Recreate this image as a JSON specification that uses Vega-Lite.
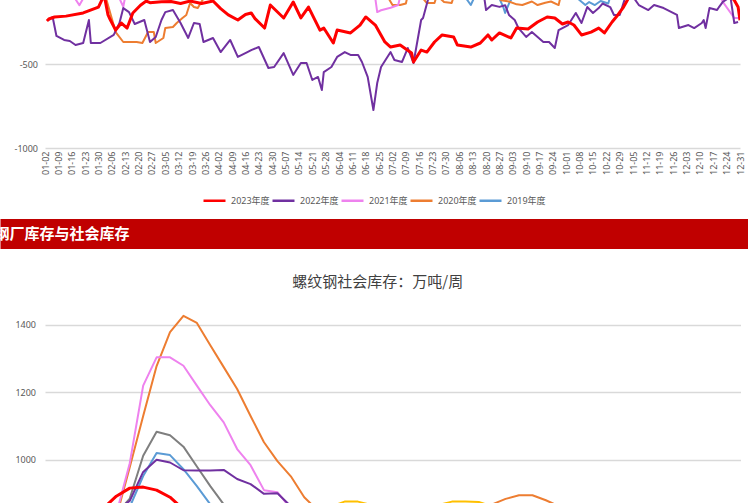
{
  "$schema": "https://vega.github.io/schema/vega-lite/v6.json",
  "padding": {"left": -6, "top": 0, "right": 0, "bottom": 0},
  "background": "white",
  "spacing": 13,
  "resolve": {"scale": {"x": "independent", "y": "independent", "color": "independent", "strokeWidth": "independent"}, "legend": {"color": "independent"}},
  "config": {
    "view": {"stroke": null},
    "axis": {"labelFont": "Noto Sans, Noto Sans CJK SC", "labelColor": "#595959", "labelFontSize": 9},
    "legend": {"labelFont": "Noto Sans, Noto Sans CJK SC", "labelColor": "#595959", "labelFontSize": 9}
  },
  "datasets": {
    "top": [
      {"series": "2019年度", "day": 0, "value": 20}, {"series": "2019年度", "day": 100, "value": 10}, {"series": "2019年度", "day": 200, "value": -20}, {"series": "2019年度", "day": 207, "value": -40}, {"series": "2019年度", "day": 220, "value": -100}, {"series": "2019年度", "day": 223, "value": -149}, {"series": "2019年度", "day": 225, "value": -100}, {"series": "2019年度", "day": 233, "value": -60}, {"series": "2019年度", "day": 238, "value": -110}, {"series": "2019年度", "day": 240, "value": -161}, {"series": "2019年度", "day": 241, "value": -196}, {"series": "2019年度", "day": 243, "value": -140}, {"series": "2019年度", "day": 245, "value": -100}, {"series": "2019年度", "day": 260, "value": -50}, {"series": "2019年度", "day": 278, "value": -100}, {"series": "2019年度", "day": 281, "value": -130}, {"series": "2019年度", "day": 283, "value": -149}, {"series": "2019年度", "day": 285, "value": -131}, {"series": "2019年度", "day": 288, "value": -149}, {"series": "2019年度", "day": 291, "value": -125}, {"series": "2019年度", "day": 295, "value": -140}, {"series": "2019年度", "day": 296, "value": -100}, {"series": "2019年度", "day": 317, "value": -40}, {"series": "2019年度", "day": 364, "value": -20},
      {"series": "2020年度", "day": 0, "value": 50}, {"series": "2020年度", "day": 24, "value": -20}, {"series": "2020年度", "day": 30, "value": -60}, {"series": "2020年度", "day": 32, "value": -110}, {"series": "2020年度", "day": 37, "value": -310}, {"series": "2020年度", "day": 41, "value": -369}, {"series": "2020年度", "day": 48, "value": -369}, {"series": "2020年度", "day": 51, "value": -375}, {"series": "2020年度", "day": 54, "value": -310}, {"series": "2020年度", "day": 57, "value": -310}, {"series": "2020年度", "day": 58, "value": -375}, {"series": "2020年度", "day": 62, "value": -345}, {"series": "2020年度", "day": 63, "value": -286}, {"series": "2020年度", "day": 67, "value": -280}, {"series": "2020年度", "day": 69, "value": -256}, {"series": "2020年度", "day": 72, "value": -226}, {"series": "2020年度", "day": 74, "value": -208}, {"series": "2020年度", "day": 76, "value": -137}, {"series": "2020年度", "day": 78, "value": -161}, {"series": "2020年度", "day": 80, "value": -167}, {"series": "2020年度", "day": 83, "value": -110}, {"series": "2020年度", "day": 87, "value": -60}, {"series": "2020年度", "day": 134, "value": 30}, {"series": "2020年度", "day": 178, "value": -60}, {"series": "2020年度", "day": 180, "value": -110}, {"series": "2020年度", "day": 182, "value": -149}, {"series": "2020年度", "day": 186, "value": -149}, {"series": "2020年度", "day": 189, "value": -140}, {"series": "2020年度", "day": 190, "value": -90}, {"series": "2020年度", "day": 194, "value": -70}, {"series": "2020年度", "day": 198, "value": -110}, {"series": "2020年度", "day": 200, "value": -137}, {"series": "2020年度", "day": 204, "value": -137}, {"series": "2020年度", "day": 205, "value": -100}, {"series": "2020年度", "day": 206, "value": -90}, {"series": "2020年度", "day": 207, "value": -110}, {"series": "2020年度", "day": 209, "value": -131}, {"series": "2020年度", "day": 213, "value": -137}, {"series": "2020年度", "day": 214, "value": -100}, {"series": "2020年度", "day": 226, "value": -60}, {"series": "2020年度", "day": 237, "value": -100}, {"series": "2020年度", "day": 239, "value": -120}, {"series": "2020年度", "day": 243, "value": -128}, {"series": "2020年度", "day": 247, "value": -145}, {"series": "2020年度", "day": 250, "value": -149}, {"series": "2020年度", "day": 255, "value": -128}, {"series": "2020年度", "day": 258, "value": -149}, {"series": "2020年度", "day": 262, "value": -135}, {"series": "2020年度", "day": 265, "value": -128}, {"series": "2020年度", "day": 269, "value": -149}, {"series": "2020年度", "day": 270, "value": -100}, {"series": "2020年度", "day": 291, "value": -30}, {"series": "2020年度", "day": 343, "value": -20}, {"series": "2020年度", "day": 364, "value": 0},
      {"series": "2021年度", "day": 0, "value": -30}, {"series": "2021年度", "day": 13, "value": -60}, {"series": "2021年度", "day": 16, "value": -115}, {"series": "2021年度", "day": 18, "value": -150}, {"series": "2021年度", "day": 20, "value": -110}, {"series": "2021年度", "day": 22, "value": -60}, {"series": "2021年度", "day": 34, "value": -40}, {"series": "2021年度", "day": 39, "value": -110}, {"series": "2021年度", "day": 41, "value": -159}, {"series": "2021年度", "day": 42, "value": -100}, {"series": "2021年度", "day": 55, "value": 0}, {"series": "2021年度", "day": 108, "value": 20}, {"series": "2021年度", "day": 170, "value": -80}, {"series": "2021年度", "day": 173, "value": -110}, {"series": "2021年度", "day": 174, "value": -191}, {"series": "2021年度", "day": 176, "value": -180}, {"series": "2021年度", "day": 181, "value": -165}, {"series": "2021年度", "day": 185, "value": -149}, {"series": "2021年度", "day": 186, "value": -100}, {"series": "2021年度", "day": 197, "value": -40}, {"series": "2021年度", "day": 291, "value": 10}, {"series": "2021年度", "day": 343, "value": -40}, {"series": "2021年度", "day": 354, "value": -100}, {"series": "2021年度", "day": 355, "value": -130}, {"series": "2021年度", "day": 361, "value": -226}, {"series": "2021年度", "day": 364, "value": -226},
      {"series": "2022年度", "day": 2, "value": -238}, {"series": "2022年度", "day": 4, "value": -220}, {"series": "2022年度", "day": 6, "value": -333}, {"series": "2022年度", "day": 10, "value": -357}, {"series": "2022年度", "day": 13, "value": -363}, {"series": "2022年度", "day": 16, "value": -387}, {"series": "2022年度", "day": 20, "value": -375}, {"series": "2022年度", "day": 23, "value": -238}, {"series": "2022年度", "day": 24, "value": -375}, {"series": "2022年度", "day": 29, "value": -375}, {"series": "2022年度", "day": 36, "value": -327}, {"series": "2022年度", "day": 39, "value": -256}, {"series": "2022年度", "day": 41, "value": -167}, {"series": "2022年度", "day": 44, "value": -191}, {"series": "2022年度", "day": 47, "value": -262}, {"series": "2022年度", "day": 52, "value": -238}, {"series": "2022年度", "day": 55, "value": -369}, {"series": "2022年度", "day": 58, "value": -339}, {"series": "2022年度", "day": 61, "value": -238}, {"series": "2022年度", "day": 63, "value": -191}, {"series": "2022年度", "day": 67, "value": -179}, {"series": "2022年度", "day": 71, "value": -256}, {"series": "2022年度", "day": 75, "value": -345}, {"series": "2022年度", "day": 78, "value": -256}, {"series": "2022年度", "day": 81, "value": -262}, {"series": "2022年度", "day": 83, "value": -369}, {"series": "2022年度", "day": 88, "value": -345}, {"series": "2022年度", "day": 92, "value": -429}, {"series": "2022年度", "day": 97, "value": -357}, {"series": "2022年度", "day": 101, "value": -458}, {"series": "2022年度", "day": 106, "value": -429}, {"series": "2022年度", "day": 108, "value": -417}, {"series": "2022年度", "day": 112, "value": -399}, {"series": "2022年度", "day": 117, "value": -524}, {"series": "2022年度", "day": 120, "value": -518}, {"series": "2022年度", "day": 125, "value": -435}, {"series": "2022年度", "day": 130, "value": -565}, {"series": "2022年度", "day": 134, "value": -494}, {"series": "2022年度", "day": 137, "value": -494}, {"series": "2022年度", "day": 140, "value": -595}, {"series": "2022年度", "day": 143, "value": -577}, {"series": "2022年度", "day": 145, "value": -655}, {"series": "2022年度", "day": 146, "value": -548}, {"series": "2022年度", "day": 150, "value": -518}, {"series": "2022年度", "day": 153, "value": -458}, {"series": "2022年度", "day": 157, "value": -429}, {"series": "2022年度", "day": 160, "value": -446}, {"series": "2022年度", "day": 164, "value": -446}, {"series": "2022年度", "day": 166, "value": -488}, {"series": "2022年度", "day": 169, "value": -577}, {"series": "2022年度", "day": 172, "value": -774}, {"series": "2022年度", "day": 174, "value": -613}, {"series": "2022年度", "day": 176, "value": -518}, {"series": "2022年度", "day": 181, "value": -429}, {"series": "2022年度", "day": 183, "value": -476}, {"series": "2022年度", "day": 187, "value": -488}, {"series": "2022年度", "day": 190, "value": -405}, {"series": "2022年度", "day": 193, "value": -494}, {"series": "2022年度", "day": 197, "value": -238}, {"series": "2022年度", "day": 198, "value": -226}, {"series": "2022年度", "day": 201, "value": -100}, {"series": "2022年度", "day": 207, "value": -50}, {"series": "2022年度", "day": 223, "value": -30}, {"series": "2022年度", "day": 230, "value": -100}, {"series": "2022年度", "day": 231, "value": -179}, {"series": "2022年度", "day": 234, "value": -149}, {"series": "2022年度", "day": 238, "value": -160}, {"series": "2022年度", "day": 241, "value": -150}, {"series": "2022年度", "day": 243, "value": -208}, {"series": "2022年度", "day": 246, "value": -238}, {"series": "2022年度", "day": 248, "value": -286}, {"series": "2022年度", "day": 252, "value": -339}, {"series": "2022年度", "day": 255, "value": -310}, {"series": "2022年度", "day": 261, "value": -369}, {"series": "2022年度", "day": 264, "value": -369}, {"series": "2022年度", "day": 267, "value": -405}, {"series": "2022年度", "day": 269, "value": -298}, {"series": "2022年度", "day": 274, "value": -268}, {"series": "2022年度", "day": 278, "value": -196}, {"series": "2022年度", "day": 281, "value": -256}, {"series": "2022年度", "day": 284, "value": -161}, {"series": "2022年度", "day": 287, "value": -196}, {"series": "2022年度", "day": 290, "value": -167}, {"series": "2022年度", "day": 292, "value": -140}, {"series": "2022年度", "day": 296, "value": -161}, {"series": "2022年度", "day": 298, "value": -208}, {"series": "2022年度", "day": 301, "value": -208}, {"series": "2022年度", "day": 304, "value": -100}, {"series": "2022年度", "day": 308, "value": -100}, {"series": "2022年度", "day": 311, "value": -149}, {"series": "2022年度", "day": 316, "value": -179}, {"series": "2022年度", "day": 319, "value": -149}, {"series": "2022年度", "day": 324, "value": -167}, {"series": "2022年度", "day": 331, "value": -208}, {"series": "2022年度", "day": 332, "value": -286}, {"series": "2022年度", "day": 337, "value": -268}, {"series": "2022年度", "day": 340, "value": -286}, {"series": "2022年度", "day": 344, "value": -256}, {"series": "2022年度", "day": 345, "value": -238}, {"series": "2022年度", "day": 346, "value": -286}, {"series": "2022年度", "day": 348, "value": -167}, {"series": "2022年度", "day": 352, "value": -179}, {"series": "2022年度", "day": 353, "value": -161}, {"series": "2022年度", "day": 355, "value": -130}, {"series": "2022年度", "day": 359, "value": -100}, {"series": "2022年度", "day": 361, "value": -256}, {"series": "2022年度", "day": 363, "value": -250},
      {"series": "2023年度", "day": 1, "value": -244}, {"series": "2023年度", "day": 2, "value": -232}, {"series": "2023年度", "day": 5, "value": -220}, {"series": "2023年度", "day": 11, "value": -215}, {"series": "2023年度", "day": 20, "value": -196}, {"series": "2023年度", "day": 28, "value": -161}, {"series": "2023年度", "day": 31, "value": -90}, {"series": "2023年度", "day": 33, "value": -208}, {"series": "2023年度", "day": 34, "value": -232}, {"series": "2023年度", "day": 37, "value": -298}, {"series": "2023年度", "day": 40, "value": -256}, {"series": "2023年度", "day": 43, "value": -286}, {"series": "2023年度", "day": 46, "value": -196}, {"series": "2023年度", "day": 50, "value": -150}, {"series": "2023年度", "day": 53, "value": -125}, {"series": "2023年度", "day": 55, "value": -135}, {"series": "2023年度", "day": 61, "value": -130}, {"series": "2023年度", "day": 66, "value": -128}, {"series": "2023年度", "day": 71, "value": -140}, {"series": "2023年度", "day": 76, "value": -125}, {"series": "2023年度", "day": 82, "value": -140}, {"series": "2023年度", "day": 88, "value": -125}, {"series": "2023年度", "day": 92, "value": -170}, {"series": "2023年度", "day": 96, "value": -208}, {"series": "2023年度", "day": 101, "value": -238}, {"series": "2023年度", "day": 105, "value": -205}, {"series": "2023年度", "day": 108, "value": -196}, {"series": "2023年度", "day": 110, "value": -230}, {"series": "2023年度", "day": 115, "value": -286}, {"series": "2023年度", "day": 118, "value": -149}, {"series": "2023年度", "day": 125, "value": -226}, {"series": "2023年度", "day": 130, "value": -131}, {"series": "2023年度", "day": 134, "value": -226}, {"series": "2023年度", "day": 138, "value": -161}, {"series": "2023年度", "day": 144, "value": -298}, {"series": "2023年度", "day": 146, "value": -286}, {"series": "2023年度", "day": 151, "value": -375}, {"series": "2023年度", "day": 153, "value": -298}, {"series": "2023年度", "day": 160, "value": -315}, {"series": "2023年度", "day": 165, "value": -268}, {"series": "2023年度", "day": 168, "value": -220}, {"series": "2023年度", "day": 173, "value": -268}, {"series": "2023年度", "day": 178, "value": -369}, {"series": "2023年度", "day": 181, "value": -399}, {"series": "2023年度", "day": 186, "value": -387}, {"series": "2023年度", "day": 192, "value": -435}, {"series": "2023年度", "day": 193, "value": -488}, {"series": "2023年度", "day": 197, "value": -417}, {"series": "2023年度", "day": 200, "value": -429}, {"series": "2023年度", "day": 204, "value": -369}, {"series": "2023年度", "day": 208, "value": -327}, {"series": "2023年度", "day": 214, "value": -339}, {"series": "2023年度", "day": 216, "value": -387}, {"series": "2023年度", "day": 223, "value": -399}, {"series": "2023年度", "day": 228, "value": -375}, {"series": "2023年度", "day": 232, "value": -327}, {"series": "2023年度", "day": 234, "value": -357}, {"series": "2023年度", "day": 238, "value": -315}, {"series": "2023年度", "day": 244, "value": -345}, {"series": "2023年度", "day": 247, "value": -286}, {"series": "2023年度", "day": 253, "value": -292}, {"series": "2023年度", "day": 258, "value": -250}, {"series": "2023年度", "day": 263, "value": -220}, {"series": "2023年度", "day": 267, "value": -226}, {"series": "2023年度", "day": 271, "value": -262}, {"series": "2023年度", "day": 274, "value": -250}, {"series": "2023年度", "day": 277, "value": -268}, {"series": "2023年度", "day": 281, "value": -327}, {"series": "2023年度", "day": 286, "value": -310}, {"series": "2023年度", "day": 290, "value": -286}, {"series": "2023年度", "day": 293, "value": -315}, {"series": "2023年度", "day": 297, "value": -250}, {"series": "2023年度", "day": 300, "value": -208}, {"series": "2023年度", "day": 303, "value": -161}, {"series": "2023年度", "day": 306, "value": -100}, {"series": "2023年度", "day": 312, "value": -40}, {"series": "2023年度", "day": 325, "value": -20}, {"series": "2023年度", "day": 340, "value": 10}, {"series": "2023年度", "day": 355, "value": -50}, {"series": "2023年度", "day": 361, "value": -120}, {"series": "2023年度", "day": 363, "value": -160}, {"series": "2023年度", "day": 364, "value": -240}
    ],
    "bottom": [
      {"series": "2017", "week": 20, "value": 850}, {"series": "2017", "week": 22, "value": 862}, {"series": "2017", "week": 23, "value": 876}, {"series": "2017", "week": 24, "value": 876}, {"series": "2017", "week": 25, "value": 866}, {"series": "2017", "week": 28, "value": 855}, {"series": "2017", "week": 30, "value": 866}, {"series": "2017", "week": 31, "value": 876}, {"series": "2017", "week": 32, "value": 876}, {"series": "2017", "week": 33, "value": 875}, {"series": "2017", "week": 34, "value": 862}, {"series": "2017", "week": 36, "value": 850},
      {"series": "2018", "week": 6, "value": 840}, {"series": "2018", "week": 7, "value": 885}, {"series": "2018", "week": 8, "value": 1012}, {"series": "2018", "week": 9, "value": 1083}, {"series": "2018", "week": 10, "value": 1073}, {"series": "2018", "week": 11, "value": 1039}, {"series": "2018", "week": 12, "value": 980}, {"series": "2018", "week": 13, "value": 922}, {"series": "2018", "week": 14, "value": 868}, {"series": "2018", "week": 15, "value": 840},
      {"series": "2019", "week": 6, "value": 820}, {"series": "2019", "week": 7, "value": 860}, {"series": "2019", "week": 8, "value": 952}, {"series": "2019", "week": 9, "value": 1020}, {"series": "2019", "week": 10, "value": 1014}, {"series": "2019", "week": 11, "value": 972}, {"series": "2019", "week": 12, "value": 922}, {"series": "2019", "week": 13, "value": 868}, {"series": "2019", "week": 14, "value": 840},
      {"series": "2020", "week": 5, "value": 800}, {"series": "2020", "week": 6, "value": 830}, {"series": "2020", "week": 7, "value": 978}, {"series": "2020", "week": 8, "value": 1130}, {"series": "2020", "week": 9, "value": 1278}, {"series": "2020", "week": 10, "value": 1379}, {"series": "2020", "week": 11, "value": 1427}, {"series": "2020", "week": 12, "value": 1406}, {"series": "2020", "week": 13, "value": 1340}, {"series": "2020", "week": 14, "value": 1275}, {"series": "2020", "week": 15, "value": 1210}, {"series": "2020", "week": 16, "value": 1130}, {"series": "2020", "week": 17, "value": 1052}, {"series": "2020", "week": 18, "value": 996}, {"series": "2020", "week": 19, "value": 951}, {"series": "2020", "week": 20, "value": 889}, {"series": "2020", "week": 21, "value": 850}, {"series": "2020", "week": 22, "value": 840}, {"series": "2020", "week": 30, "value": 840}, {"series": "2020", "week": 33, "value": 855}, {"series": "2020", "week": 34, "value": 868}, {"series": "2020", "week": 35, "value": 884}, {"series": "2020", "week": 36, "value": 895}, {"series": "2020", "week": 37, "value": 895}, {"series": "2020", "week": 38, "value": 880}, {"series": "2020", "week": 39, "value": 862}, {"series": "2020", "week": 40, "value": 850},
      {"series": "2021", "week": 5, "value": 820}, {"series": "2021", "week": 6, "value": 840}, {"series": "2021", "week": 7, "value": 990}, {"series": "2021", "week": 8, "value": 1220}, {"series": "2021", "week": 9, "value": 1304}, {"series": "2021", "week": 10, "value": 1304}, {"series": "2021", "week": 11, "value": 1279}, {"series": "2021", "week": 12, "value": 1220}, {"series": "2021", "week": 13, "value": 1162}, {"series": "2021", "week": 14, "value": 1111}, {"series": "2021", "week": 15, "value": 1032}, {"series": "2021", "week": 16, "value": 984}, {"series": "2021", "week": 17, "value": 910}, {"series": "2021", "week": 18, "value": 904}, {"series": "2021", "week": 19, "value": 855}, {"series": "2021", "week": 20, "value": 830},
      {"series": "2022", "week": 5, "value": 840}, {"series": "2022", "week": 6, "value": 850}, {"series": "2022", "week": 7, "value": 878}, {"series": "2022", "week": 8, "value": 964}, {"series": "2022", "week": 9, "value": 1000}, {"series": "2022", "week": 10, "value": 992}, {"series": "2022", "week": 11, "value": 969}, {"series": "2022", "week": 12, "value": 968}, {"series": "2022", "week": 13, "value": 968}, {"series": "2022", "week": 14, "value": 970}, {"series": "2022", "week": 15, "value": 943}, {"series": "2022", "week": 16, "value": 928}, {"series": "2022", "week": 17, "value": 899}, {"series": "2022", "week": 18, "value": 901}, {"series": "2022", "week": 19, "value": 862}, {"series": "2022", "week": 20, "value": 840},
      {"series": "2023", "week": 4, "value": 840}, {"series": "2023", "week": 5, "value": 855}, {"series": "2023", "week": 6, "value": 892}, {"series": "2023", "week": 7, "value": 916}, {"series": "2023", "week": 8, "value": 919}, {"series": "2023", "week": 9, "value": 910}, {"series": "2023", "week": 10, "value": 889}, {"series": "2023", "week": 11, "value": 853}, {"series": "2023", "week": 12, "value": 830}
    ]
  },
  "vconcat": [
    {
      "width": 695,
      "height": 148,
      "data": {"name": "top"},
      "mark": {"type": "line", "clip": true, "strokeJoin": "round"},
      "encoding": {
        "x": {
          "field": "day", "type": "quantitative",
          "scale": {"domain": [0, 364], "nice": false, "zero": false},
          "axis": {
            "values": [0, 7, 14, 21, 28, 35, 42, 49, 56, 63, 70, 77, 84, 91, 98, 105, 112, 119, 126, 133, 140, 147, 154, 161, 168, 175, 182, 189, 196, 203, 210, 217, 224, 231, 238, 245, 252, 259, 266, 273, 280, 287, 294, 301, 308, 315, 322, 329, 336, 343, 350, 357, 364],
            "labelExpr": "timeFormat(datetime(2020, 0, 2 + datum.value), '%m-%d')",
            "labelAngle": 270, "labelAlign": "right", "labelBaseline": "middle", "labelPadding": 3,
            "labelOverlap": false, "labelBound": false, "labelFlush": false,
            "domain": false, "ticks": false, "grid": false, "title": null
          }
        },
        "y": {
          "field": "value", "type": "quantitative",
          "scale": {"domain": [-1000, -119], "nice": false, "zero": false},
          "axis": {
            "values": [-1000, -500],
            "labelExpr": "(datum.value < 0 ? '-' : '') + abs(datum.value)",
            "labelPadding": 7.5, "grid": true, "gridColor": "#d9d9d9", "gridWidth": 1.5,
            "domain": false, "ticks": false, "title": null
          }
        },
        "color": {
          "field": "series", "type": "nominal",
          "scale": {"domain": ["2023年度", "2022年度", "2021年度", "2020年度", "2019年度"], "range": ["#ff0000", "#7030a0", "#ee82ee", "#ed7d31", "#5b9bd5"]},
          "legend": {
            "orient": "none", "legendX": 157, "legendY": 188, "direction": "horizontal",
            "title": null, "symbolType": "stroke", "symbolSize": 484, "symbolStrokeWidth": 2.5,
            "columnPadding": -3, "labelOffset": 4, "padding": 0
          }
        },
        "strokeWidth": {"condition": {"test": "datum.series === '2023年度'", "value": 3}, "value": 2}
      }
    },
    {
      "width": 700,
      "height": 43,
      "data": {"values": [{"label": "钢厂库存与社会库存"}]},
      "layer": [
        {
          "mark": {"type": "rect", "color": "#c00000", "clip": false},
          "encoding": {
            "x": {"datum": 0, "type": "quantitative", "scale": {"domain": [0, 748], "range": [-44.5, 703.5], "nice": false, "zero": false}, "axis": null},
            "x2": {"datum": 748},
            "y": {"datum": 0, "type": "quantitative", "scale": {"domain": [0, 43], "range": [0, 43], "nice": false, "zero": false}, "axis": null},
            "y2": {"datum": 30}
          }
        },
        {
          "mark": {"type": "text", "align": "left", "baseline": "middle", "dx": -6, "font": "Noto Sans CJK SC", "fontWeight": "bold", "fontSize": 15, "color": "#ffffff", "clip": false},
          "encoding": {
            "text": {"field": "label", "type": "nominal"},
            "x": {"datum": 0, "type": "quantitative"},
            "y": {"datum": 15, "type": "quantitative"}
          }
        }
      ]
    },
    {
      "width": 695.5,
      "height": 209,
      "title": {"text": "螺纹钢社会库存：万吨/周", "font": "Noto Sans CJK SC", "fontSize": 15, "fontWeight": "normal", "color": "#404040", "anchor": "middle", "frame": "bounds", "offset": 8},
      "data": {"name": "bottom"},
      "mark": {"type": "line", "clip": true, "strokeJoin": "round"},
      "encoding": {
        "x": {"field": "week", "type": "quantitative", "scale": {"domain": [0.686, 52.5], "nice": false, "zero": false}, "axis": null},
        "y": {
          "field": "value", "type": "quantitative",
          "scale": {"domain": [860, 1480], "nice": false, "zero": false},
          "axis": {
            "values": [1000, 1200, 1400], "format": "d",
            "labelPadding": 9.5, "grid": true, "gridColor": "#d9d9d9", "gridWidth": 1.5,
            "domain": false, "ticks": false, "title": null
          }
        },
        "color": {
          "field": "series", "type": "nominal",
          "scale": {"domain": ["2023", "2022", "2021", "2020", "2019", "2018", "2017"], "range": ["#ff0000", "#7030a0", "#ee82ee", "#ed7d31", "#5b9bd5", "#7f7f7f", "#ffc000"]},
          "legend": null
        },
        "strokeWidth": {"condition": {"test": "datum.series === '2023'", "value": 3}, "value": 2}
      }
    }
  ]
}
